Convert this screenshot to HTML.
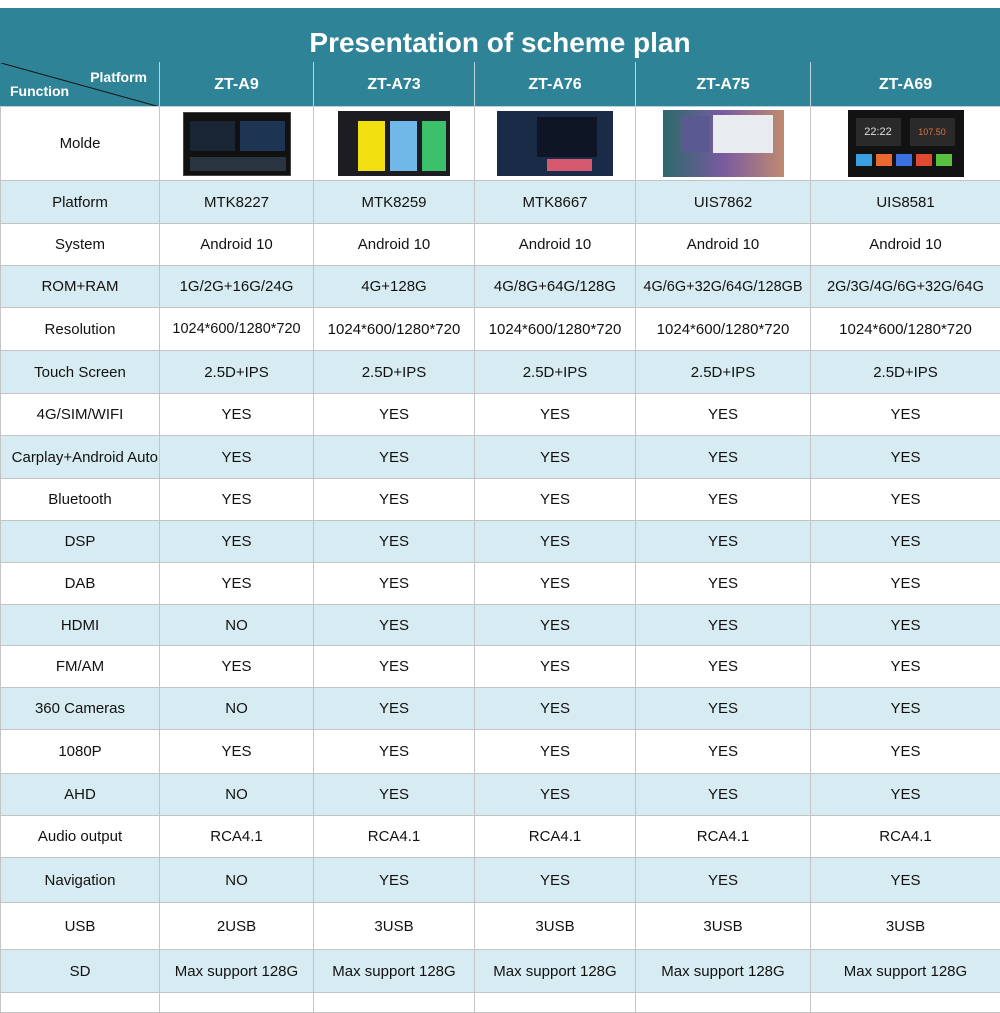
<!DOCTYPE html>
<html><head><meta charset="utf-8"><style>
*{margin:0;padding:0;box-sizing:border-box}
body{width:1000px;height:1000px;background:#fff;position:relative;overflow:hidden;font-family:"Liberation Sans",sans-serif;color:#111}
#title{position:absolute;left:0;top:8px;width:1000px;height:54px;background:#2f8397;color:#fff;font-weight:bold;font-size:28px;text-align:center;line-height:70px}
table{position:absolute;left:0;top:62px;border-collapse:collapse;table-layout:fixed;width:1000px}
td{border:1px solid #c4c4c4;text-align:center;font-size:15px;padding:0;white-space:nowrap;overflow:hidden}
tr.h td{background:#2f8397;color:#fff;font-weight:bold;font-size:16px;border-color:#b9d3da;border-top-color:#2f8397}
tr.l td{background:#d7ecf2}
.hd{position:relative}
.img{display:inline-block;vertical-align:middle;position:relative}
</style></head><body>
<div id="title">Presentation of scheme plan</div>
<table>
<colgroup><col style="width:159px"><col style="width:154px"><col style="width:161px"><col style="width:161px"><col style="width:175px"><col style="width:190px"></colgroup>
<tr class="h" style="height:44px"><td class="hd" style="border-left-color:#2f8397">
<svg width="159" height="44" style="position:absolute;left:0;top:0"><line x1="0" y1="0" x2="159" y2="44" stroke="#111" stroke-width="1"/></svg>
<span style="position:absolute;right:12px;top:6px;font-size:14px">Platform</span>
<span style="position:absolute;left:9px;top:20px;font-size:14px">Function</span></td>
<td>ZT-A9</td><td>ZT-A73</td><td>ZT-A76</td><td>ZT-A75</td><td>ZT-A69</td></tr>
<tr style="height:74px"><td>Molde</td>
<td><div class="img" style="width:108px;height:64px;background:#111;border:1px solid #444"><div style="position:absolute;left:6px;top:8px;width:45px;height:30px;background:#1a2535"></div><div style="position:absolute;left:56px;top:8px;width:45px;height:30px;background:#1d3553"></div><div style="position:absolute;left:6px;top:44px;width:96px;height:14px;background:#2a3340"></div></div></td>
<td><div class="img" style="width:112px;height:65px;background:#1c1c22"><div style="position:absolute;left:20px;top:10px;width:27px;height:50px;background:#f2df10"></div><div style="position:absolute;left:52px;top:10px;width:27px;height:50px;background:#6fb8e8"></div><div style="position:absolute;left:84px;top:10px;width:24px;height:50px;background:#3cc06a"></div></div></td>
<td><div class="img" style="width:116px;height:65px;background:#1a2b48"><div style="position:absolute;left:40px;top:6px;width:60px;height:40px;background:#0e1626"></div><div style="position:absolute;left:50px;top:48px;width:45px;height:12px;background:#d55a70"></div></div></td>
<td><div class="img" style="width:121px;height:67px;background:linear-gradient(90deg,#2b6a6a,#7a5aa0,#c08a70)"><div style="position:absolute;left:50px;top:5px;width:60px;height:38px;background:#e8ecee"></div><div style="position:absolute;left:18px;top:6px;width:28px;height:36px;background:#5a5a90"></div></div></td>
<td><div class="img" style="width:116px;height:67px;background:#121212"><div style="position:absolute;left:8px;top:8px;width:45px;height:28px;background:#2a2a2a;color:#ddd;font-size:11px;line-height:28px">22:22</div><div style="position:absolute;left:62px;top:8px;width:45px;height:28px;background:#2a2a2a;color:#e07040;font-size:9px;line-height:28px">107.50</div><div style="position:absolute;left:8px;top:44px;width:100px;height:12px;background:linear-gradient(90deg,#3aa0e0 0 16%,#111 16% 20%,#e86a30 20% 36%,#111 36% 40%,#3a70e0 40% 56%,#111 56% 60%,#e04a30 60% 76%,#111 76% 80%,#5ac040 80% 96%,#111 96%)"></div></div></td></tr>
<tr class="l" style="height:43px"><td>Platform</td><td>MTK8227</td><td>MTK8259</td><td>MTK8667</td><td>UIS7862</td><td>UIS8581</td></tr>
<tr style="height:42px"><td>System</td><td>Android 10</td><td>Android 10</td><td>Android 10</td><td>Android 10</td><td>Android 10</td></tr>
<tr class="l" style="height:42px"><td>ROM+RAM</td><td>1G/2G+16G/24G</td><td>4G+128G</td><td>4G/8G+64G/128G</td><td style="font-size:14.5px">4G/6G+32G/64G/128GB</td><td style="font-size:14.5px">2G/3G/4G/6G+32G/64G</td></tr>
<tr style="height:43px"><td>Resolution</td><td style="font-size:14.5px">1024*600/1280*720</td><td>1024*600/1280*720</td><td>1024*600/1280*720</td><td>1024*600/1280*720</td><td>1024*600/1280*720</td></tr>
<tr class="l" style="height:43px"><td>Touch Screen</td><td>2.5D+IPS</td><td>2.5D+IPS</td><td>2.5D+IPS</td><td>2.5D+IPS</td><td>2.5D+IPS</td></tr>
<tr style="height:42px"><td>4G/SIM/WIFI</td><td>YES</td><td>YES</td><td>YES</td><td>YES</td><td>YES</td></tr>
<tr class="l" style="height:43px"><td style="text-align:right;padding-right:1px">Carplay+Android Auto</td><td>YES</td><td>YES</td><td>YES</td><td>YES</td><td>YES</td></tr>
<tr style="height:42px"><td>Bluetooth</td><td>YES</td><td>YES</td><td>YES</td><td>YES</td><td>YES</td></tr>
<tr class="l" style="height:42px"><td>DSP</td><td>YES</td><td>YES</td><td>YES</td><td>YES</td><td>YES</td></tr>
<tr style="height:42px"><td>DAB</td><td>YES</td><td>YES</td><td>YES</td><td>YES</td><td>YES</td></tr>
<tr class="l" style="height:41px"><td>HDMI</td><td>NO</td><td>YES</td><td>YES</td><td>YES</td><td>YES</td></tr>
<tr style="height:42px"><td>FM/AM</td><td>YES</td><td>YES</td><td>YES</td><td>YES</td><td>YES</td></tr>
<tr class="l" style="height:42px"><td>360 Cameras</td><td>NO</td><td>YES</td><td>YES</td><td>YES</td><td>YES</td></tr>
<tr style="height:44px"><td>1080P</td><td>YES</td><td>YES</td><td>YES</td><td>YES</td><td>YES</td></tr>
<tr class="l" style="height:42px"><td>AHD</td><td>NO</td><td>YES</td><td>YES</td><td>YES</td><td>YES</td></tr>
<tr style="height:42px"><td>Audio output</td><td>RCA4.1</td><td>RCA4.1</td><td>RCA4.1</td><td>RCA4.1</td><td>RCA4.1</td></tr>
<tr class="l" style="height:45px"><td>Navigation</td><td>NO</td><td>YES</td><td>YES</td><td>YES</td><td>YES</td></tr>
<tr style="height:47px"><td>USB</td><td>2USB</td><td>3USB</td><td>3USB</td><td>3USB</td><td>3USB</td></tr>
<tr class="l" style="height:43px"><td>SD</td><td>Max support 128G</td><td>Max support 128G</td><td>Max support 128G</td><td>Max support 128G</td><td>Max support 128G</td></tr>
<tr style="height:20px"><td></td><td></td><td></td><td></td><td></td><td></td></tr>
</table>
</body></html>
